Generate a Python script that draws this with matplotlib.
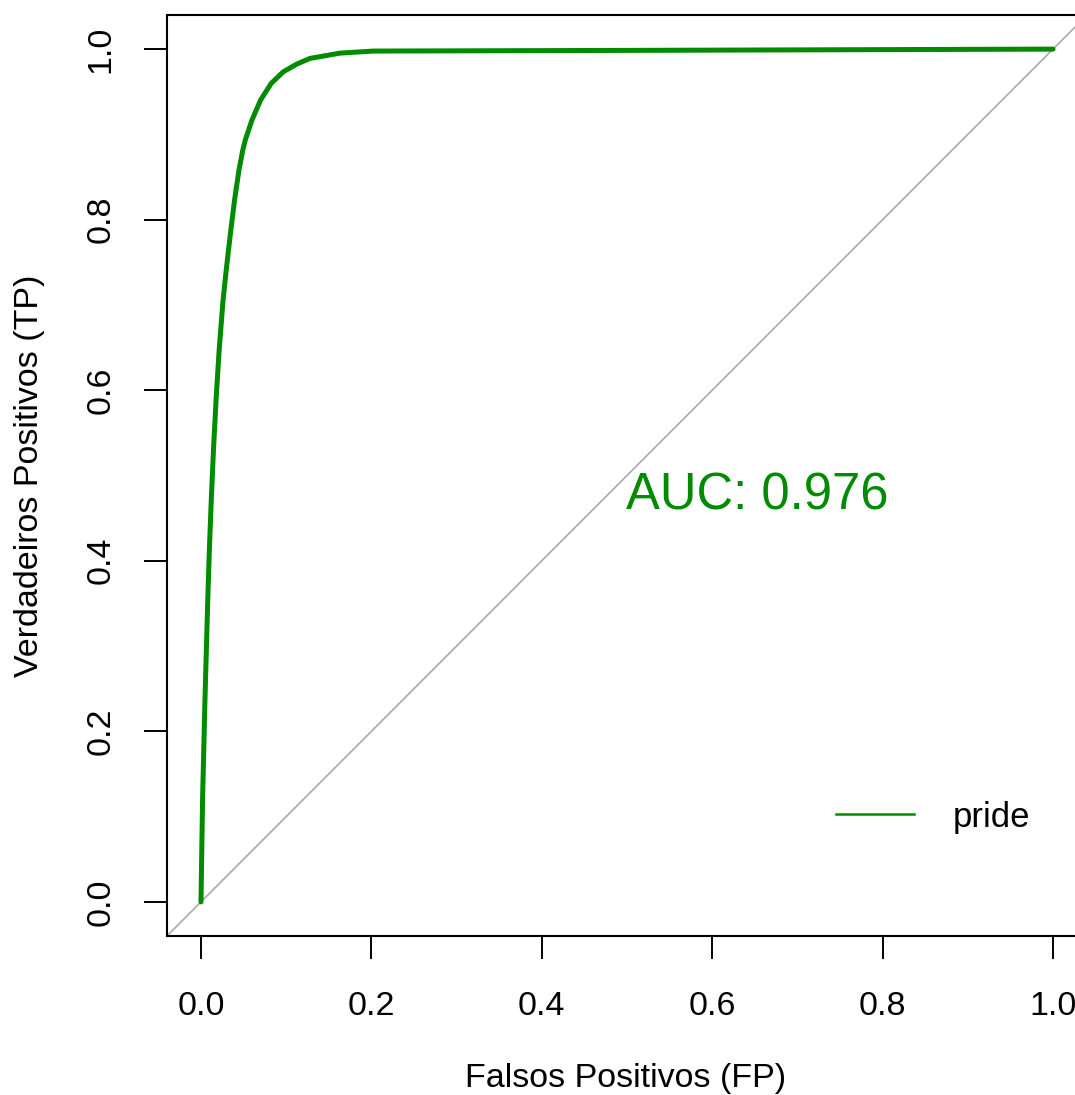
import matplotlib
matplotlib.use("Agg")
import matplotlib.pyplot as plt
from matplotlib.lines import Line2D

fpr = [0.0, 0.00188, 0.00469, 0.00798, 0.00986, 0.01209, 0.01467, 0.01772,
       0.02136, 0.02594, 0.03005, 0.03462, 0.03944, 0.04460, 0.04906,
       0.05200, 0.05986, 0.06995, 0.08239, 0.09660, 0.11232, 0.12793,
       0.16315, 0.20188, 0.5, 1.0]
tpr = [0.0, 0.1206, 0.2377, 0.3548, 0.4133, 0.4719, 0.5304, 0.5890,
       0.6475, 0.7061, 0.7447, 0.7845, 0.8232, 0.8583, 0.8817,
       0.8934, 0.9169, 0.9403, 0.9598, 0.9734, 0.9824, 0.9891,
       0.9953, 0.9977, 0.9985, 1.0]
series_name = "pride"
auc_label = "AUC: 0.976"
xticks = [0.0, 0.2, 0.4, 0.6, 0.8, 1.0]
yticks = [0.0, 0.2, 0.4, 0.6, 0.8, 1.0]

plt.rcParams['font.family'] = ['Liberation Sans', 'DejaVu Sans']

W, H = 1075, 1095
fig = plt.figure(figsize=(W / 100, H / 100), dpi=100)
left = 166.9
width = 920.2
bottom = H - 936
height = 936 - 15
ax = fig.add_axes([left / W, bottom / H, width / W, height / H])
ax.set_xlim(-0.04, 1.04)
ax.set_ylim(-0.04, 1.04)

green = "#008B00"
ax.axline((0, 0), slope=1, color="#AAAAAA", lw=1.2, zorder=1)
ax.plot(fpr, tpr, color=green, lw=3.6, solid_capstyle='round',
        solid_joinstyle='round', zorder=2)

ax.text(0.6526, 0.4754, auc_label, color=green, fontsize=36.5,
        ha='center', va='center')

handle = Line2D([], [], color=green, lw=1.8)
ax.legend([handle], [series_name], loc='center',
          bbox_to_anchor=((933 - left) / width, (936 - 817) / height),
          frameon=False, fontsize=25, handlelength=2.25, handletextpad=1.1)

for s in ax.spines.values():
    s.set_linewidth(1.5)
ax.set_xticks(xticks)
ax.set_yticks(yticks)
ax.set_xticklabels([f"{v:.1f}" for v in xticks])
ax.set_yticklabels([f"{v:.1f}" for v in yticks], rotation=90, va='center')
ax.tick_params(axis='both', length=16.5, width=1.4, labelsize=24.5)
ax.tick_params(axis='x', pad=23)
ax.tick_params(axis='y', pad=20)

ax.set_xlabel("Falsos Positivos (FP)", fontsize=24.5, va='center')
ax.set_ylabel("Verdadeiros Positivos (TP)", fontsize=24.5, va='center')
ax.xaxis.set_label_coords((626 - left) / width, (936 - 1078) / height)
ax.yaxis.set_label_coords((30 - left) / width, (936 - 476) / height)

fig.savefig("out.png", dpi=100)
